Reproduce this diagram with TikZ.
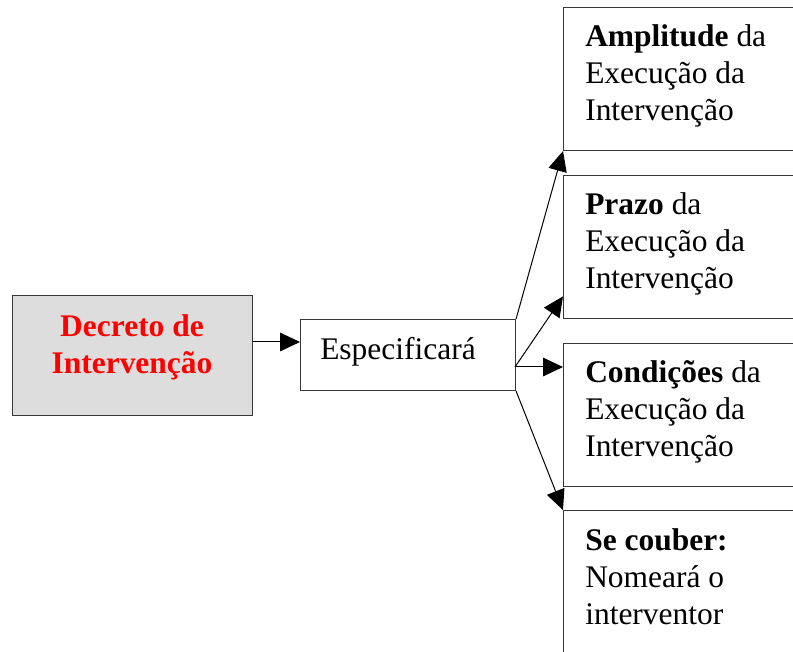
\documentclass[tikz,border=0pt]{standalone}
\usepackage{fontspec}
\setmainfont{Liberation Serif}
\usetikzlibrary{arrows.meta}
\usepackage{xcolor}

\definecolor{boxgray}{RGB}{221,221,221}
\definecolor{edgegray}{RGB}{55,55,55}

\begin{document}
\begin{tikzpicture}[x=0.75pt,y=0.75pt,yscale=-1,
  box/.style={draw=edgegray, line width=0.8pt, anchor=north west, inner sep=0pt},
  sidebox/.style={box, minimum width=187.5pt, minimum height=107.25pt},
  txt/.style={inner sep=0pt, align=left, font=\fontsize{23.6}{27.75}\selectfont},
  seta/.style={-{Triangle[length=15pt,width=14pt]}, line width=0.75pt}]
%set diagram to 793 x 652
\useasboundingbox (0,0) rectangle (793,652);
\clip (0,0) rectangle (793,652);

%Shapes
\node [box, fill=boxgray, minimum width=180pt, minimum height=90pt] (decreto) at (12,295) {};
\node [box, minimum width=161.25pt, minimum height=53.25pt] (espec) at (300,319) {};
\node [sidebox] (amplitude) at (563,7) {};
\node [sidebox] (prazo) at (563,175) {};
\node [sidebox] (condicoes) at (563,343) {};
\node [sidebox, minimum height=110pt] (couber) at (563,510) {};

% Text Node
\node [txt, anchor=north, align=center, text=red, font=\fontsize{23.6}{27.75}\selectfont\bfseries] (decretotxt) at (132,314.5) {Decreto de\\Intervenção};
\node [txt, anchor=base west] (espectxt) at (320,360) {Especificará};
\node [txt, anchor=north west] (amplitudetxt) at (585,24.5) {\textbf{Amplitude} da\\Execução da\\Intervenção};
\node [txt, anchor=north west] (prazotxt) at (585,192.5) {\textbf{Prazo} da\\Execução da\\Intervenção};
\node [txt, anchor=north west] (condicoestxt) at (585,360.5) {\textbf{Condições} da\\Execução da\\Intervenção};
\node [txt, anchor=north west] (coubertxt) at (585,528.5) {\textbf{Se couber:}\\Nomeará o\\interventor};

%Arrows
\coordinate (level) at (0,342);
\coordinate (fork) at (515,367);
\draw [seta] (decreto.east |- level) -- (espec.west |- level);
\draw [seta] (espec.north east) -- (amplitude.south west);
\draw [seta] (fork) -- ([yshift=-17pt]prazo.south west);
\draw [seta] (fork) -- (condicoes.west |- fork);
\draw [seta] (espec.south east) -- (couber.north west);

\end{tikzpicture}
\end{document}
